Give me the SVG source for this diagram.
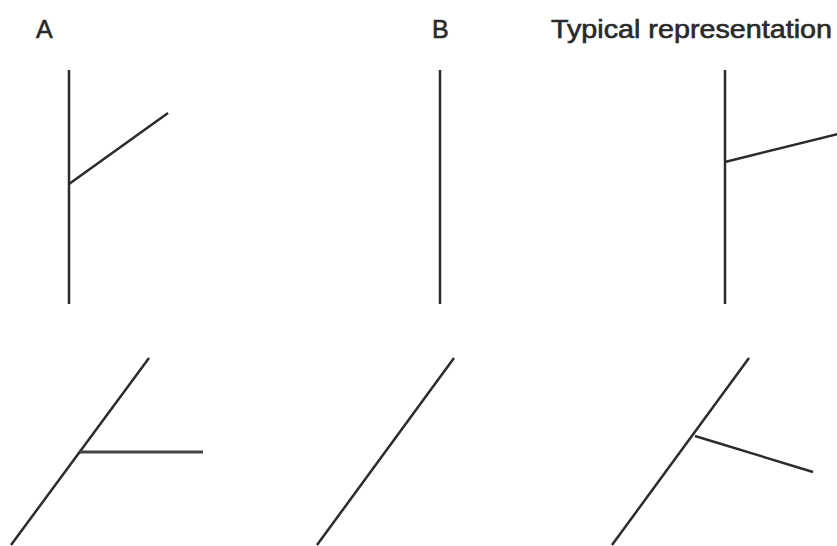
<svg xmlns="http://www.w3.org/2000/svg" width="837" height="546" viewBox="0 0 837 546">
<style>
.ln{stroke:#2b2b2b;stroke-width:2.5;fill:none;stroke-linecap:butt}
.lb{font-family:"Liberation Sans",Arial,sans-serif;font-size:25px;fill:#2a2a2a;stroke:#2a2a2a;stroke-width:0.6}
</style>
<rect width="837" height="546" fill="#fff"/>
<g id="labels">
<text class="lb" x="36" y="38">A</text>
<text class="lb" x="432" y="38">B</text>
<text class="lb" x="551" y="38" textLength="281" lengthAdjust="spacingAndGlyphs">Typical representation</text>
</g>
<g id="A-top"><line class="ln" x1="69" y1="70" x2="69" y2="304"/><line class="ln" x1="69" y1="184" x2="168" y2="113"/></g>
<g id="B-top"><line class="ln" x1="440" y1="70" x2="440" y2="304"/></g>
<g id="T-top"><line class="ln" x1="725" y1="70" x2="725" y2="304"/><line class="ln" x1="725" y1="162" x2="838" y2="134"/></g>
<g id="A-bottom"><line class="ln" x1="149" y1="358" x2="11" y2="545"/><line class="ln" x1="80" y1="452" x2="203" y2="452" style="stroke:#444;stroke-width:3"/></g>
<g id="B-bottom"><line class="ln" x1="454" y1="358" x2="317" y2="545"/></g>
<g id="T-bottom"><line class="ln" x1="749" y1="358" x2="612" y2="545"/><line class="ln" x1="695" y1="436" x2="813" y2="472"/></g>
</svg>
